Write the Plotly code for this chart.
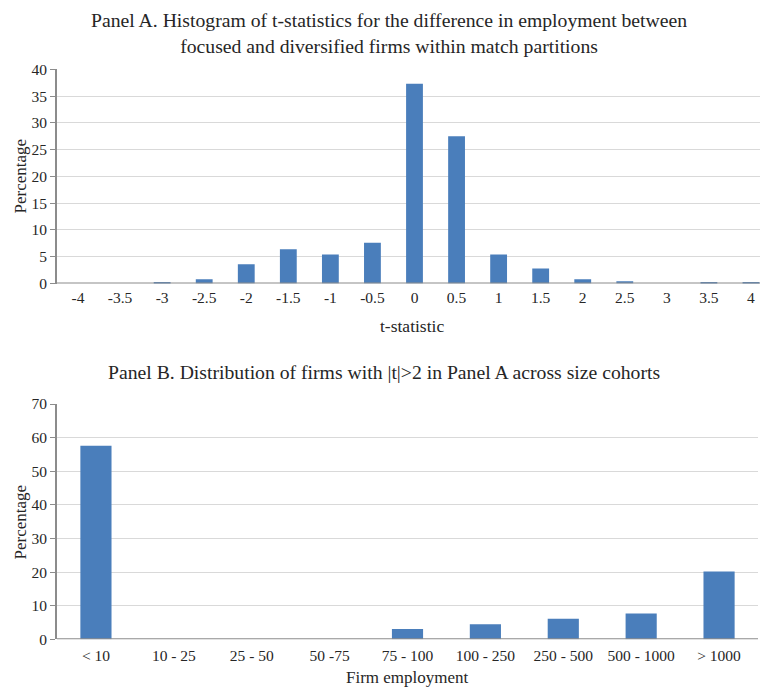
import plotly.graph_objects as go

# Panel A data
t_labels = ["-4", "-3.5", "-3", "-2.5", "-2", "-1.5", "-1", "-0.5", "0",
            "0.5", "1", "1.5", "2", "2.5", "3", "3.5", "4"]
t_pct = [0.0, 0.0, 0.3, 0.8, 3.6, 6.4, 5.4, 7.6, 37.3,
         27.5, 5.4, 2.8, 0.8, 0.4, 0.0, 0.3, 0.3]

# Panel B data
size_labels = ["< 10", "10 - 25", "25 - 50", "50 -75", "75 - 100",
               "100 - 250", "250 - 500", "500 - 1000", "> 1000"]
size_pct = [57.6, 0.0, 0.0, 0.0, 3.1, 4.5, 6.1, 7.7, 20.2]

title_a = ("Panel A. Histogram of t-statistics for the difference in employment between<br>"
           "focused and diversified firms within match partitions")
title_b = "Panel B. Distribution of firms with |t|>2 in Panel A across size cohorts"

BAR = "#4A7EBB"
GRID = "#D9D9D9"
AXIS = "#8C8C8C"
FONT = "Liberation Serif, Times New Roman, serif"
TXT = "#262626"

# page is offset by the default 8px body margin
OFF = 8
W, H = 768 - 2 * OFF, 696 - 2 * OFF


def px(x):
    return (x - OFF) / W


def py(y):
    return 1 - (y - OFF) / H


# panel A plot area continues past the window edge; keep its category width
a_left, a_right_full, a_right_vis = 57, 772, 760
a_cat = (a_right_full - a_left) / len(t_labels)
a_range = [-0.5, len(t_labels) - 0.5 - (a_right_full - a_right_vis) / a_cat]

fig = go.Figure()
fig.add_trace(go.Bar(x=t_labels, y=t_pct, marker=dict(color=BAR, line=dict(width=0)),
                     xaxis="x", yaxis="y", showlegend=False))
fig.add_trace(go.Bar(x=size_labels, y=size_pct, marker=dict(color=BAR, line=dict(width=0)),
                     xaxis="x2", yaxis="y2", showlegend=False))

common_x = dict(type="category", showgrid=False, ticks="", showline=False, automargin=False,
                tickfont=dict(family=FONT, size=15.5, color=TXT), zeroline=False)
common_y = dict(showgrid=True, gridcolor=GRID, gridwidth=1.3, zeroline=False, automargin=False,
                showline=True, linecolor=AXIS, linewidth=2,
                ticks="outside", ticklen=5, tickcolor=AXIS, tickwidth=1,
                tickfont=dict(family=FONT, size=15.5, color=TXT))

fig.update_layout(
    template="none",
    width=W, height=H,
    margin=dict(l=0, r=0, t=0, b=0, pad=0),
    paper_bgcolor="white", plot_bgcolor="white",
    bargap=0.6,
    xaxis=dict(domain=[px(a_left), px(a_right_vis)], range=a_range, anchor="y",
               ticklabelstandoff=3, **common_x),
    yaxis=dict(domain=[py(283.5), py(69.3)], anchor="x", range=[0, 40], dtick=5, **common_y),
    xaxis2=dict(domain=[px(57), px(758)], anchor="y2", ticklabelstandoff=5, **common_x),
    yaxis2=dict(domain=[py(639.3), py(404)], anchor="x2", range=[0, 70], dtick=10, **common_y),
    shapes=[
        dict(type="line", xref="x domain", yref="y", x0=0, x1=1, y0=0, y1=0,
             line=dict(color=AXIS, width=2)),
        dict(type="line", xref="x2 domain", yref="y2", x0=0, x1=1, y0=0, y1=0,
             line=dict(color=AXIS, width=2)),
    ],
    annotations=[
        dict(text=title_a, x=px(389), y=1, xref="paper", yref="paper",
             xanchor="center", yanchor="top", borderpad=0,
             showarrow=False, font=dict(family=FONT, size=19.7, color=TXT), align="center"),
        dict(text="t-statistic", x=px(412), y=py(326), xref="paper", yref="paper",
             xanchor="center", yanchor="middle",
             showarrow=False, font=dict(family=FONT, size=17.5, color=TXT)),
        dict(text="Percentage", x=0, y=py(176), xref="paper", yref="paper",
             xanchor="left", yanchor="middle",
             showarrow=False, textangle=-90, font=dict(family=FONT, size=17, color=TXT)),
        dict(text=title_b, x=px(384), y=py(372), xref="paper", yref="paper",
             xanchor="center", yanchor="middle",
             showarrow=False, font=dict(family=FONT, size=19.7, color=TXT)),
        dict(text="Firm employment", x=px(407), y=0, xref="paper", yref="paper",
             xanchor="center", yanchor="bottom", borderpad=0,
             showarrow=False, font=dict(family=FONT, size=17, color=TXT)),
        dict(text="Percentage", x=0, y=py(522), xref="paper", yref="paper",
             xanchor="left", yanchor="middle",
             showarrow=False, textangle=-90, font=dict(family=FONT, size=17, color=TXT)),
    ],
)

fig.write_html("out.html")
